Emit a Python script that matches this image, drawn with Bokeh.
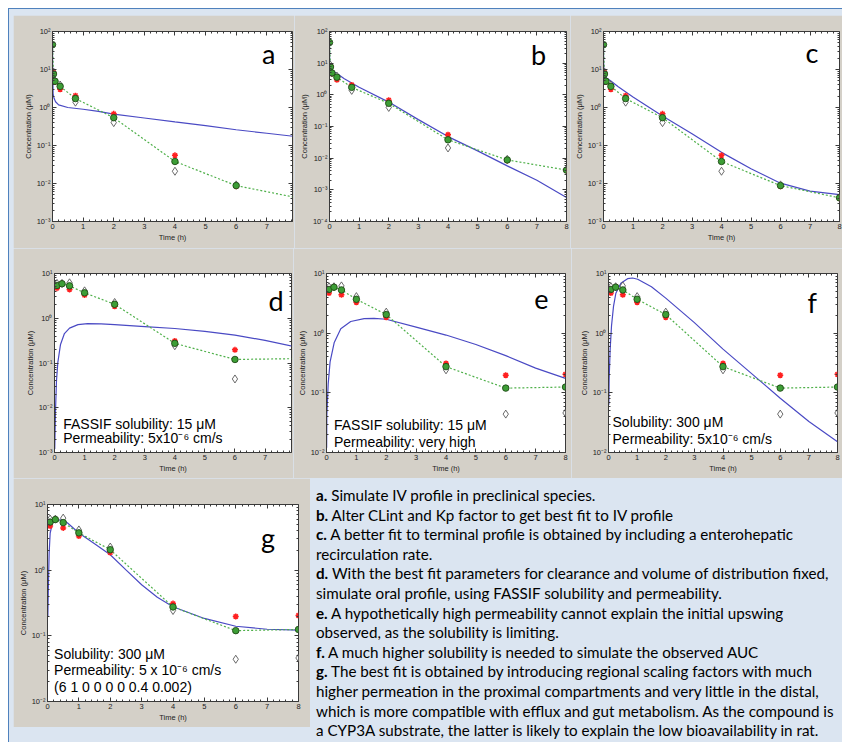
import math
from bokeh.plotting import figure
from bokeh.models import (Range1d, FixedTicker, CustomJSTickFormatter, LinearAxis,
                          LogAxis, Label, Div, Spacer)
from bokeh.layouts import row, column
from bokeh.embed import file_html
from bokeh.resources import INLINE

# ---------------- data ----------------
# IV study (panels a, b, c)
iv_t_mean = [0.0, 0.033, 0.083, 0.25, 0.75, 2, 4, 6, 8]
iv_mean = [45, 7.6, 4.9, 3.6, 1.72, 0.54, 0.038, 0.0088, 0.0042]
iv_t_obs = [0.033, 0.083, 0.25, 0.75, 2, 4, 6, 8]
iv_rat1 = [8.2, 4.7, 3.0, 2.05, 0.68, 0.055, 0.0085, 0.0041]
iv_rat2 = [8.6, 5.0, 3.9, 1.38, 0.40, 0.021, 0.0092, 0.0043]

# oral study (panels d, e, f, g)
or_t = [0.083, 0.25, 0.5, 1, 2, 4, 6, 8]
or_mean = [5.4, 5.9, 5.3, 3.7, 2.05, 0.275, 0.12, 0.125]
or_rat1 = [4.7, 5.9, 4.4, 3.3, 1.85, 0.31, 0.197, 0.204]
or_rat2 = [6.0, 6.0, 6.2, 4.1, 2.25, 0.243, 0.044, 0.046]

# simulated profiles
sim_a_t = [0, 0.005, 0.02, 0.05, 0.1, 0.2, 0.5, 1, 1.5, 2, 3, 4, 5, 6, 7, 8]
sim_a_c = [45, 12, 2.3, 1.74, 1.42, 1.17, 1.0, 0.9, 0.79, 0.67, 0.53, 0.42, 0.335, 0.26, 0.21, 0.17]
sim_b_t = [0, 0.005, 0.02, 0.05, 0.1, 0.25, 0.5, 1, 2, 3, 4, 5, 6, 7, 8]
sim_b_c = [45, 15, 8, 6.5, 5.8, 4.7, 3.2, 1.74, 0.59, 0.165, 0.048, 0.017, 0.0057, 0.002, 0.00057]
sim_c_t = [0, 0.005, 0.02, 0.05, 0.1, 0.25, 0.5, 1, 2, 3, 4, 5, 6, 7, 8]
sim_c_c = [45, 15, 8, 6.8, 6.0, 5.0, 3.5, 1.9, 0.6, 0.205, 0.066, 0.0245, 0.0102, 0.0063, 0.0051]
sim_d_t = [0.008, 0.033, 0.066, 0.11, 0.2, 0.33, 0.5, 0.78, 1.1, 1.55, 2, 3, 4, 5, 6, 7, 8]
sim_d_c = [0.0012, 0.0083, 0.04, 0.102, 0.26, 0.455, 0.6, 0.72, 0.76, 0.75, 0.72, 0.65, 0.59, 0.51, 0.42, 0.32, 0.23]
sim_e_t = [0.005, 0.011, 0.056, 0.12, 0.256, 0.478, 0.81, 1.26, 1.59, 2, 3, 4, 5, 6, 7, 8]
sim_e_c = [0.012, 0.042, 0.14, 0.33, 0.69, 1.19, 1.57, 1.75, 1.77, 1.71, 1.26, 0.93, 0.645, 0.42, 0.26, 0.175]
sim_f_t = [0.012, 0.023, 0.058, 0.105, 0.175, 0.257, 0.432, 0.666, 0.84, 1.02, 1.5, 2, 3, 4, 5, 6, 7, 8]
sim_f_c = [0.063, 0.173, 0.54, 1.32, 2.81, 4.67, 6.84, 8.2, 8.4, 8.0, 6.0, 3.87, 1.5, 0.54, 0.21, 0.081, 0.033, 0.0152]
sim_g_t = [0.011, 0.032, 0.053, 0.085, 0.16, 0.27, 0.5, 0.64, 1, 1.5, 2, 2.5, 3, 3.5, 4, 5, 6, 7, 8]
sim_g_c = [0.195, 0.71, 1.82, 3.68, 5.24, 5.75, 5.88, 5.24, 3.68, 2.53, 1.72, 1.01, 0.6, 0.386, 0.277, 0.184, 0.14, 0.126, 0.122]

panel_letters = ["a", "b", "c", "d", "e", "f", "g"]
x_title = "Time (h)"
y_title = "Concentration (μM)"
notes_d = ["FASSIF solubility: 15 μM", "Permeability: 5x10⁻⁶ cm/s"]
notes_e = ["FASSIF solubility: 15 μM", "Permeability: very high"]
notes_f = ["Solubility: 300 μM", "Permeability: 5x10⁻⁶ cm/s"]
notes_g = ["Solubility: 300 μM", "Permeability: 5 x 10⁻⁶ cm/s", "(6 1 0 0 0 0 0.4 0.002)"]

caption = [
    ("a.", "Simulate IV profile in preclinical species."),
    ("b.", "Alter CLint and Kp factor to get best fit to IV profile"),
    ("c.", "A better fit to terminal profile is obtained by including a enterohepatic"),
    ("", "recirculation rate."),
    ("d.", "With the best fit parameters for clearance and volume of distribution fixed,"),
    ("", "simulate oral profile, using FASSIF solubility and permeability."),
    ("e.", "A hypothetically high permeability cannot explain the initial upswing"),
    ("", "observed, as the solubility is limiting."),
    ("f.", "A much higher solubility is needed to simulate the observed AUC"),
    ("g.", "The best fit is obtained by introducing regional scaling factors with much"),
    ("", "higher permeation in the proximal compartments and very little in the distal,"),
    ("", "which is more compatible with efflux and gut metabolism. As the compound is"),
    ("", "a CYP3A substrate, the latter is likely to explain the low bioavailability in rat."),
]

# ---------------- styling ----------------
GRAY = "#d4d0c8"
LIGHTBLUE = "#dbe5f1"
BLUE = "#4a4ac4"
GREEN_LINE = "#4fb04a"
AXIS_FONT = "Liberation Sans"

SUP = """
const e = Math.round(Math.log10(tick));
const sup = {'-':'\u207b','0':'\u2070','1':'\u00b9','2':'\u00b2','3':'\u00b3','4':'\u2074','5':'\u2075','6':'\u2076','7':'\u2077','8':'\u2078','9':'\u2079'};
return '10' + String(e).split('').map(c => sup[c]).join('');
"""


def style_axis(ax):
    ax.major_tick_in = 4
    ax.major_tick_out = 0
    ax.minor_tick_in = 2
    ax.minor_tick_out = 0
    ax.axis_line_color = "#3a3a3a"
    ax.major_tick_line_color = "#3a3a3a"
    ax.minor_tick_line_color = "#3a3a3a"
    ax.major_label_text_font = AXIS_FONT
    ax.major_label_text_font_size = "7.5px"
    ax.major_label_text_color = "#222222"
    ax.major_label_standoff = 2
    ax.axis_label_text_font = AXIS_FONT
    ax.axis_label_text_font_size = "7.5px"
    ax.axis_label_text_font_style = "normal"
    ax.axis_label_text_color = "#222222"
    ax.axis_label_standoff = 1


def make_panel(cfg, sim_t, sim_c, t_mean, mean, t_obs, obs1, obs2, letter, letter_xy, notes, notes_xy):
    ymin, ymax = cfg["y"]
    xmax = cfg["xmax"]
    p = figure(width=cfg["w"], height=cfg["h"], title=None,
               x_range=Range1d(0, xmax), y_range=Range1d(ymin, ymax),
               y_axis_type="log", output_backend="svg", toolbar_location=None,
               min_border_left=cfg["l"], min_border_right=cfg["r"],
               min_border_top=cfg["t"], min_border_bottom=cfg["b"])
    p.border_fill_color = GRAY
    p.background_fill_color = "white"
    p.outline_line_color = "#3a3a3a"
    p.grid.visible = False

    e0, e1 = round(math.log10(ymin)), round(math.log10(ymax))
    yt = [10.0 ** k for k in range(e0, e1 + 1)]
    ym = [m * 10.0 ** k for k in range(e0, e1) for m in range(2, 10)]
    xt = list(range(0, 9))
    xm = [i * 0.2 for i in range(0, 41)]

    p.xaxis.ticker = FixedTicker(ticks=xt, minor_ticks=xm)
    p.yaxis.ticker = FixedTicker(ticks=yt, minor_ticks=ym)
    p.yaxis.formatter = CustomJSTickFormatter(code=SUP)
    if cfg.get("xlabel", True):
        p.xaxis.axis_label = x_title
    p.yaxis.axis_label = y_title
    style_axis(p.xaxis[0])
    style_axis(p.yaxis[0])

    # box ticks on top and right (no labels, pinned to frame edge)
    top = LinearAxis(ticker=FixedTicker(ticks=xt, minor_ticks=xm),
                     formatter=CustomJSTickFormatter(code="return ''"),
                     fixed_location=ymax)
    right = LogAxis(ticker=FixedTicker(ticks=yt, minor_ticks=ym),
                    formatter=CustomJSTickFormatter(code="return ''"),
                    fixed_location=xmax)
    for ax in (top, right):
        style_axis(ax)
        ax.major_label_standoff = 0
        ax.major_label_text_font_size = "1px"
    p.add_layout(top, "above")
    p.add_layout(right, "right")

    p.line(sim_t, sim_c, line_color=BLUE, line_width=1.2)
    p.line(t_mean, mean, line_color=GREEN_LINE, line_dash="2 2", line_width=1.2)
    p.scatter(t_obs, obs2, marker="diamond", size=8, fill_color="white",
              line_color="#444444", line_width=0.8)
    p.scatter(t_obs, obs1, marker="asterisk", size=6, line_color="#ff2020", line_width=1.5)
    p.scatter(t_mean, mean, marker="circle", size=6.5, fill_color="#3d9e36",
              line_color="#1f4a16", line_width=0.9)

    p.add_layout(Label(x=letter_xy[0], y=letter_xy[1], text=letter, text_font="Lato",
                       text_font_size="27px", text_color="black",
                       text_align="center", text_baseline="alphabetic"))
    for txt, (nx, ny) in zip(notes, notes_xy):
        p.add_layout(Label(x=nx, y=ny, text=txt, text_font="Liberation Sans",
                           text_font_size="14px", text_color="black",
                           text_align="left", text_baseline="middle"))
    return p


cfg_a = dict(w=281, h=233, l=39, r=2, t=12, b=27, xmax=7.84, y=(1e-3, 1e2))
cfg_b = dict(w=276, h=233, l=35, r=4, t=13, b=21, xmax=8, y=(1e-4, 1e2), xlabel=False)
cfg_c = dict(w=272, h=233, l=33, r=3, t=16, b=21, xmax=8, y=(1e-3, 1e2))
cfg_d = dict(w=280, h=230, l=41, r=2, t=14, b=20, xmax=7.88, y=(1e-3, 1e1))
cfg_e = dict(w=278, h=230, l=33, r=6, t=15, b=26, xmax=8, y=(1e-2, 1e1))
cfg_f = dict(w=271, h=230, l=37, r=5, t=25, b=23, xmax=8, y=(1e-2, 1e1))
cfg_g = dict(w=297, h=249, l=34, r=12, t=26, b=26, xmax=8, y=(1e-2, 1e1))

pa = make_panel(cfg_a, sim_a_t, sim_a_c, iv_t_mean, iv_mean, iv_t_obs, iv_rat1, iv_rat2,
                panel_letters[0], (7.06, 25.6), [], [])
pb = make_panel(cfg_b, sim_b_t, sim_b_c, iv_t_mean, iv_mean, iv_t_obs, iv_rat1, iv_rat2,
                panel_letters[1], (7.06, 18.6), [], [])
pc = make_panel(cfg_c, sim_c_t, sim_c_c, iv_t_mean, iv_mean, iv_t_obs, iv_rat1, iv_rat2,
                panel_letters[2], (7.07, 27.9), [], [])
pd = make_panel(cfg_d, sim_d_t, sim_d_c, or_t, or_mean, or_t, or_rat1, or_rat2,
                panel_letters[3], (7.37, 2.55), notes_d, [(0.29, 0.0044), (0.29, 0.00215)])
pe = make_panel(cfg_e, sim_e_t, sim_e_c, or_t, or_mean, or_t, or_rat1, or_rat2,
                panel_letters[4], (7.19, 3.77), notes_e, [(0.25, 0.0288), (0.25, 0.0151)])
pf = make_panel(cfg_f, sim_f_t, sim_f_c, or_t, or_mean, or_t, or_rat1, or_rat2,
                panel_letters[5], (7.12, 3.27), notes_f, [(0.14, 0.0326), (0.14, 0.0171)])
pg = make_panel(cfg_g, sim_g_t, sim_g_c, or_t, or_mean, or_t, or_rat1, or_rat2,
                panel_letters[6], (7.03, 3.09), notes_g,
                [(0.21, 0.0536), (0.21, 0.0297), (0.21, 0.0165)])

lines_html = "<br>".join((f"<b>{b}</b> {t}" if b else t) for b, t in caption)
div = Div(text=(
    "<div style='width:532px;height:264px;box-sizing:border-box;padding:8px 0 0 6px;"
    f"background:{LIGHTBLUE};font-family:Lato;font-size:15.2px;"
    "line-height:19.6px;white-space:nowrap;overflow:hidden;color:#000;'>"
    + lines_html + "</div>"), width=532, height=264, margin=0)

inner = column(
    Spacer(width=833, height=6),
    row(Spacer(width=4, height=233), pa, pb, pc),
    row(Spacer(width=4, height=230), pd, pe, pf),
    row(Spacer(width=4, height=264), pg, div),
    styles={"background-color": LIGHTBLUE, "border-left": "1px solid #4f81bd",
            "border-top": "1px solid #4f81bd"},
)
root = column(Spacer(width=842, height=8), row(Spacer(width=8, height=734), inner))

open("out.html", "w").write(file_html(root, INLINE))
